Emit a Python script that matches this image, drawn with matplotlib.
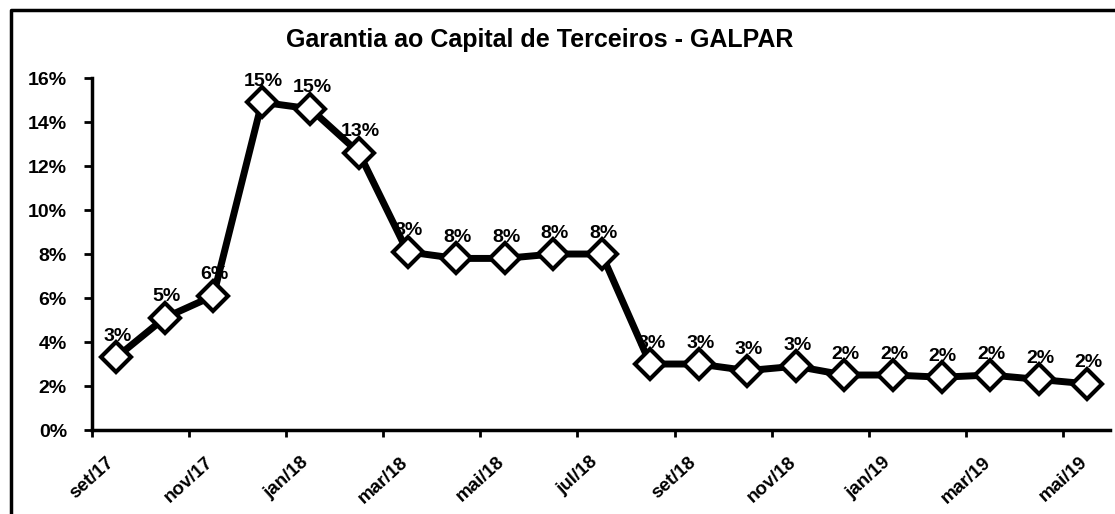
import numpy as np
import matplotlib
matplotlib.use('Agg')
import matplotlib.pyplot as plt
import matplotlib.ticker as tkr
from matplotlib.lines import Line2D

plt.rcParams['font.family'] = ['Liberation Sans', 'DejaVu Sans']

# ---------- data ----------#
months = ['set/17', 'out/17', 'nov/17', 'dez/17', 'jan/18', 'fev/18', 'mar/18',
          'abr/18', 'mai/18', 'jun/18', 'jul/18', 'ago/18', 'set/18', 'out/18',
          'nov/18', 'dez/18', 'jan/19', 'fev/19', 'mar/19', 'abr/19', 'mai/19']
garantia = [0.033, 0.051, 0.061, 0.149, 0.146, 0.126, 0.081, 0.078, 0.078, 0.080,
            0.080, 0.030, 0.030, 0.027, 0.029, 0.025, 0.025, 0.024, 0.025, 0.023, 0.021]
tick_labels = months[::2]

fig = plt.figure(figsize=(11.15, 5.14), dpi=100)
ax = fig.add_axes([0.0825, 0.1634, 0.913, 0.6848])

x = np.arange(len(garantia))
ax.plot(x, garantia, color='black', linewidth=5, zorder=2)
ax.plot(x, garantia, linestyle='none', marker='D', markersize=15,
        markerfacecolor='white', markeredgecolor='black', markeredgewidth=3, zorder=3)

# data labels
for xi, v in zip(x, garantia):
    ax.annotate("{:.0%}".format(v), (xi, v), xytext=(1, 15), textcoords='offset points',
                ha='center', va='center', fontsize=14, fontweight='bold', zorder=4)

ax.set_xlim(-0.5, 20.47)
ax.set_ylim(0, 0.16)
ax.set_yticks(np.arange(0, 0.161, 0.02))
ax.yaxis.set_major_formatter(tkr.FuncFormatter(lambda v, p: "{:.0f}%".format(v * 100)))
ax.set_xticks(np.arange(0, len(months), 2) - 0.5)
ax.set_xticklabels(tick_labels, rotation=42, ha='center', va='top',
                   rotation_mode='default')

for lab in ax.get_yticklabels():
    lab.set_fontweight('bold')
    lab.set_fontsize(14)
for lab in ax.get_xticklabels():
    lab.set_fontweight('bold')
    lab.set_fontsize(13.5)

ax.tick_params(axis='y', direction='out', length=6, width=2, pad=12)
ax.tick_params(axis='x', direction='out', length=5, width=2, pad=12)

for side in ['top', 'right']:
    ax.spines[side].set_visible(False)
for side in ['left', 'bottom']:
    ax.spines[side].set_linewidth(2.5)

fig.text(0.484, 0.922, 'Garantia ao Capital de Terceiros - GALPAR',
         ha='center', va='center', fontsize=18, fontweight='bold')

# chart frame (left and top edge only)
fig.add_artist(Line2D([11, 11, 1115], [0, 504, 504], transform=None,
                      color='black', linewidth=2.5))

fig.savefig('out.png', dpi=100)
